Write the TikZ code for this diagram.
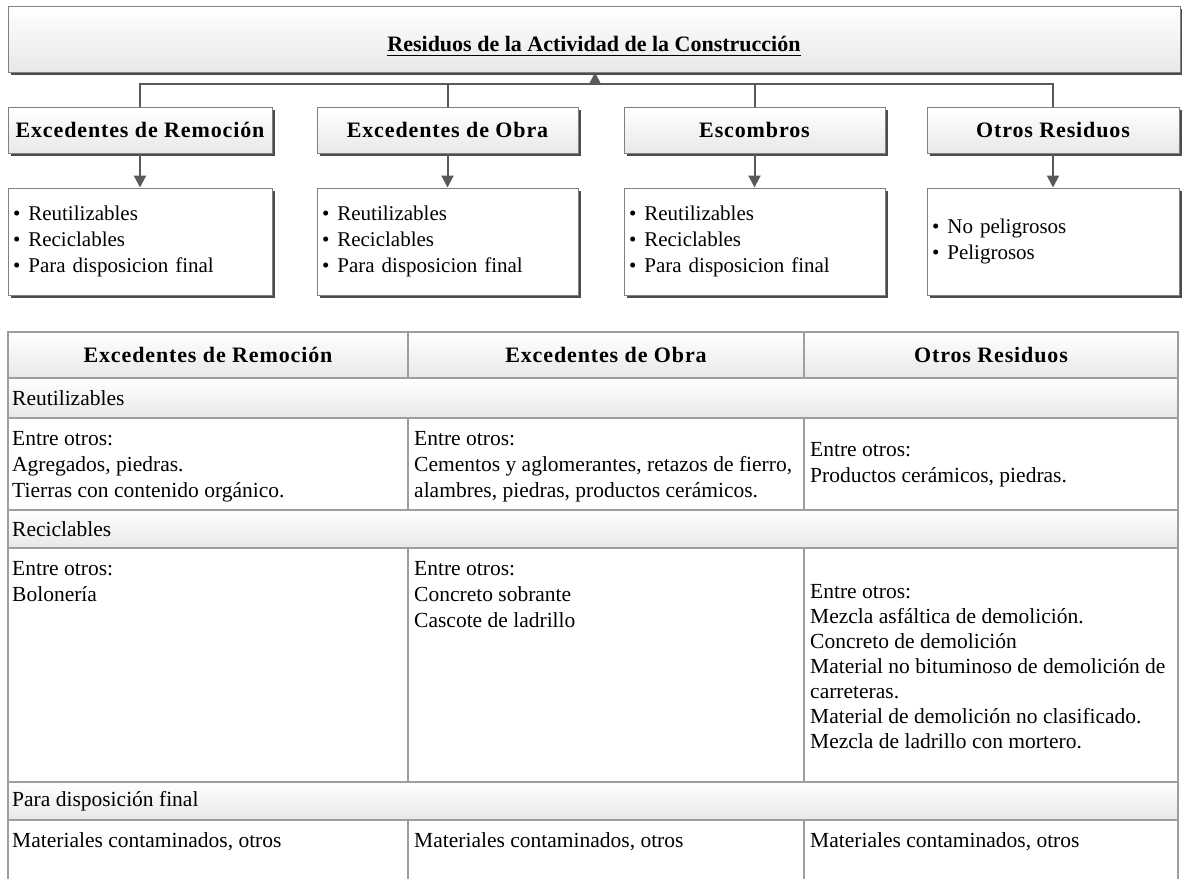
\documentclass[tikz,border=0pt]{standalone}
\usepackage{fontspec}
\setmainfont{Liberation Serif}
\usetikzlibrary{positioning,shadows,arrows.meta}

\newcommand{\headfont}{\fontsize{22}{24}\selectfont\bfseries\addfontfeature{LetterSpace=4}}
\newcommand{\titlefont}{\fontsize{22}{24}\selectfont\bfseries}
\newcommand{\listfont}{\fontsize{21}{26}\selectfont}
\newcommand{\bodyfont}{\fontsize{21.5}{26}\selectfont}
\newcommand{\bul}{\textbullet\hspace{8pt}}

\begin{document}
\begin{tikzpicture}[x=1pt,y=-1pt,
  topbox/.style={draw=black!50, line width=1pt, top color=white, bottom color=black!9,
    drop shadow={shadow xshift=2.5pt, shadow yshift=-2.5pt, fill=black!70, opacity=1}},
  catbox/.style={topbox, minimum height=46, inner sep=0pt, font=\headfont},
  listbox/.style={draw=black!50, line width=1pt, fill=white, minimum height=107,
    inner sep=5pt, align=left, font=\listfont,
    drop shadow={shadow xshift=2.5pt, shadow yshift=-2.5pt, fill=black!70, opacity=1}},
  conn/.style={draw=black!65, line width=2pt},
  tip/.style={-{Triangle[length=12pt,width=12pt]}},
  grid/.style={draw=black!38, line width=1.2pt},
  band/.style={top color=white, bottom color=black!9},
  cell/.style={anchor=north west, inner sep=0pt, align=left, font=\bodyfont},
]
\useasboundingbox (0,0) rectangle (1182,879);

% top of the tree
\node[topbox, minimum width=1172, minimum height=66] (top) at (594,39) {};
\node[inner sep=0pt, font=\titlefont] (ttl) at (594,44) {Residuos de la Actividad de la Construcción};
\draw[line width=1.6pt] ([yshift=-4pt]ttl.base west) -- ([yshift=-4pt]ttl.base east);

% categories
\node[catbox, minimum width=264] (rem) at (140,130) {Excedentes de Remoción};
\node[catbox, minimum width=261] (obr) at (447.5,130) {Excedentes de Obra};
\node[catbox, minimum width=261] (esc) at (754.5,130) {Escombros};
\node[catbox, minimum width=252] (otr) at (1053,130) {Otros Residuos};

\coordinate (bus) at (595,84);
\draw[conn] (rem.north) -- (rem.north |- bus) -- (otr.north |- bus) -- (otr.north);
\draw[conn] (obr.north) -- (obr.north |- bus);
\draw[conn] (esc.north) -- (esc.north |- bus);
\draw[conn, tip] (bus) -- (top.south -| bus);

% lists
\node[listbox, text width=254] (lrem) at (140,241.5) {\bul Reutilizables\\ \bul Reciclables\\ \bul Para disposicion final};
\node[listbox, text width=251] (lobr) at (447.5,241.5) {\bul Reutilizables\\ \bul Reciclables\\ \bul Para disposicion final};
\node[listbox, text width=251] (lesc) at (754.5,241.5) {\bul Reutilizables\\ \bul Reciclables\\ \bul Para disposicion final};
\node[listbox, text width=242] (lotr) at (1053,241.5) {\bul No peligrosos\\ \bul Peligrosos};

\draw[conn, tip] (rem.south) -- (lrem.north);
\draw[conn, tip] (obr.south) -- (lobr.north);
\draw[conn, tip] (esc.south) -- (lesc.north);
\draw[conn, tip] (otr.south) -- (lotr.north);

% table
\shade[band] (8,332) rectangle (1178,378);
\shade[band] (8,378) rectangle (1178,418);
\shade[band] (8,510) rectangle (1178,548);
\shade[band] (8,782) rectangle (1178,820);
\draw[grid] (8,879) -- (8,332) -- (1178,332) -- (1178,879);
\foreach \y in {378,418,510,548,782,820}
  \draw[grid] (8,\y) -- (1178,\y);
\foreach \x in {408,804}{
  \draw[grid] (\x,332) -- (\x,378);
  \draw[grid] (\x,418) -- (\x,510);
  \draw[grid] (\x,548) -- (\x,782);
  \draw[grid] (\x,820) -- (\x,879);
}

\node[font=\headfont] (h1) at (208,355) {Excedentes de Remoción};
\node[font=\headfont] (h2) at (606,355) {Excedentes de Obra};
\node[font=\headfont] (h3) at (991,355) {Otros Residuos};

\node[cell, anchor=west] (r1) at (12,398) {Reutilizables};
\node[cell] (c11) at (12,431) {Entre otros:\\ Agregados, piedras.\\ Tierras con contenido orgánico.};
\node[cell] (c12) at (414,431) {Entre otros:\\ Cementos y aglomerantes, retazos de fierro,\\ alambres, piedras, productos cerámicos.};
\node[cell, anchor=west] (c13) at (810,465) {Entre otros:\\ Productos cerámicos, piedras.};

\node[cell, anchor=west] (r2) at (12,529) {Reciclables};
\node[cell] (c21) at (12,561) {Entre otros:\\ Bolonería};
\node[cell] (c22) at (414,561) {Entre otros:\\ Concreto sobrante\\ Cascote de ladrillo};
\node[cell, anchor=west, font=\fontsize{21.5}{25}\selectfont] (c23) at (810,667) {Entre otros:\\ Mezcla asfáltica de demolición.\\ Concreto de demolición\\ Material no bituminoso de demolición de\\ carreteras.\\ Material de demolición no clasificado.\\ Mezcla de ladrillo con mortero.};

\node[cell, anchor=west] (r3) at (12,801) {Para disposición final};
\node[cell, anchor=west] (c31) at (12,842) {Materiales contaminados, otros};
\node[cell, anchor=west] (c32) at (414,842) {Materiales contaminados, otros};
\node[cell, anchor=west] (c33) at (810,842) {Materiales contaminados, otros};
\end{tikzpicture}
\end{document}
